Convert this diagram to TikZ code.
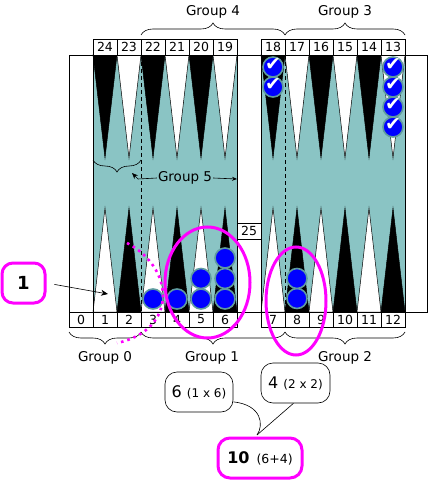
\documentclass[tikz,border=0pt]{standalone}
\usepackage{fontspec}
\setmainfont{DejaVu Sans}
\usetikzlibrary{decorations.pathreplacing,arrows.meta,shapes.geometric,calc}
\definecolor{boardteal}{RGB}{138,196,196}
\definecolor{chkedge}{RGB}{95,155,160}
\definecolor{mag}{RGB}{255,0,255}
\begin{document}
\begin{tikzpicture}[x=1pt,y=-1pt,
  lbl/.style={draw, fill=white, minimum width=24pt, inner sep=0pt, line width=0.6pt, font=\fontsize{12.5}{12.5}\selectfont},
  grp/.style={font=\fontsize{13.5}{14}\selectfont, inner sep=1pt},
  chk/.style={circle, fill=blue, draw=chkedge, line width=1.6pt, minimum size=20pt, inner sep=0pt},
  tick/.style={chk, text=white, font=\fontsize{19}{19}\selectfont},
  brc/.style={decorate, decoration={brace, amplitude=12pt}, line width=0.6pt},
  bubble/.style={draw, rounded corners=12pt, minimum width=68pt, minimum height=40pt, inner sep=2pt, line width=0.6pt},
  tri/.style={draw=black, line width=0.5pt},
  magline/.style={draw=mag, line width=3pt}
]
\newcommand{\tk}{\makebox[0pt]{\smash{\raisebox{-0.3ex}{✔}}}}
\useasboundingbox (0,0) rectangle (430,481);
% playing areas
\fill[boardteal] (93,55) rectangle (237,312);
\fill[boardteal] (261,55) rectangle (405,312);
% top points
\foreach \x/\c in {93/black,117/white,141/black,165/white,189/black,213/white,261/black,285/white,309/black,333/white,357/black,381/white}
  \filldraw[tri, fill=\c] (\x,55) -- (\x+24,55) -- (\x+12,158) -- cycle;
% bottom points
\foreach \x/\c in {93/white,117/black,141/white,165/black,189/white,213/black,261/white,285/black,309/white,333/black,357/white,381/black}
  \filldraw[tri, fill=\c] (\x,312) -- (\x+24,312) -- (\x+12,208) -- cycle;
% dashed lines
\draw[dashed, dash pattern=on 4pt off 3pt, line width=0.6pt] (141,55) -- (141,312);
\draw[dashed, dash pattern=on 4pt off 3pt, line width=0.6pt] (285,55) -- (285,312);
% frame
\draw[line width=0.6pt] (69,55) rectangle (427,312);
\foreach \x in {93,237,261,405} \draw[line width=0.6pt] (\x,55) -- (\x,312);
% labels
\foreach \n [count=\k from 0] in {24,23,22,21,20,19}
  \node[lbl, minimum height=16pt] (t\n) at (105+24*\k,47) {\n};
\foreach \n [count=\k from 0] in {18,17,16,15,14,13}
  \node[lbl, minimum height=16pt] (t\n) at (273+24*\k,47) {\n};
\foreach \n [count=\k from 0] in {0,1,2,3,4,5,6}
  \node[lbl, minimum height=15pt] (b\n) at (81+24*\k,319.5) {\n};
\foreach \n [count=\k from 0] in {7,8,9,10,11,12}
  \node[lbl, minimum height=15pt] (b\n) at (273+24*\k,319.5) {\n};
\node[lbl, minimum height=16pt] (bar) at (249,231) {25};
% checkers bottom
\node[chk] (c3a) at (153,299) {};
\node[chk] (c4a) at (177,299) {};
\node[chk] (c5a) at (201,299) {};
\node[chk] (c5b) at (201,278.5) {};
\node[chk] (c6a) at (225,299) {};
\node[chk] (c6b) at (225,278.5) {};
\node[chk] (c6c) at (225,258) {};
\node[chk] (c8a) at (297,298.5) {};
\node[chk] (c8b) at (297,278.5) {};
% checkers top
\node[tick] (c18a) at (273,67) {\tk};
\node[tick] (c18b) at (273,87) {\tk};
\node[tick] (c13a) at (393,67) {\tk};
\node[tick] (c13b) at (393,87) {\tk};
\node[tick] (c13c) at (393,107) {\tk};
\node[tick] (c13d) at (393,127) {\tk};
% group 5
\draw[brc] (141,160) -- (93,160);
\node[grp] (g5) at (185,178) {Group 5};
\coordinate (g5l) at (132,173);
\coordinate (g5r) at (237,179);
\draw[line width=0.6pt, -{Stealth[length=6pt,width=5pt]}] (g5.west) -- (138,179) -- (g5l);
\draw[line width=0.6pt, -{Stealth[length=5pt,width=4pt]}] (g5.east) -- (g5r);
% top braces
\draw[brc] (141,35) -- (285,35);
\draw[brc] (285,35) -- (405,35);
\node[grp] (g4) at (213,12) {Group 4};
\node[grp] (g3) at (345,12) {Group 3};
% bottom braces
\draw[brc] (141,332) -- (69,332);
\draw[brc] (285,332) -- (141,332);
\draw[brc] (405,332) -- (285,332);
\node[grp] (g0) at (105,358) {Group 0};
\node[grp] (g1) at (212,358) {Group 1};
\node[grp] (g2) at (345,358) {Group 2};
% magenta marks
\node[ellipse, magline, minimum width=85pt, minimum height=111pt, inner sep=0pt] (e1) at (207.5,282.5) {};
\node[ellipse, magline, minimum width=60pt, minimum height=108pt, inner sep=0pt] (e2) at (296,301) {};
\draw[mag, line width=2.6pt, dash pattern=on 2.6pt off 4pt] (127,243) .. controls (175,268) and (178,330) .. (117,343);
% node 1
\node[magline, rounded corners=11pt, minimum width=43pt, minimum height=40pt, inner sep=0pt, font=\bfseries\fontsize{18}{18}\selectfont] (one) at (23.5,283) {1};
\coordinate (p1) at (108,294);
\draw[line width=0.6pt, shorten <=8pt, -{Stealth[length=7pt,width=6pt]}] (one.east) -- (p1);
% bubbles
\node[bubble] (b6x) at (199,392) {{\fontsize{16}{16}\selectfont 6}\hspace{5pt}{\fontsize{12}{12}\selectfont (1 x 6)}};
\node[bubble, minimum width=69pt] (b4x) at (295.5,383) {{\fontsize{16}{16}\selectfont 4}\hspace{5pt}{\fontsize{12}{12}\selectfont (2 x 2)}};
\coordinate (tip) at (257,435);
\draw[line width=0.6pt] (b6x.-16) .. controls (262,405) and (264,425) .. (tip);
\draw[line width=0.6pt] ($(b4x.south)+(-2,0)$) -- (tip);
\node[magline, rounded corners=12pt, minimum width=84pt, minimum height=40pt, inner sep=2pt] (tot) at (260,458) {{\bfseries\fontsize{16}{16}\selectfont 10}\hspace{7pt}{\fontsize{12.5}{12.5}\selectfont (6+4)}};
\end{tikzpicture}
\end{document}
